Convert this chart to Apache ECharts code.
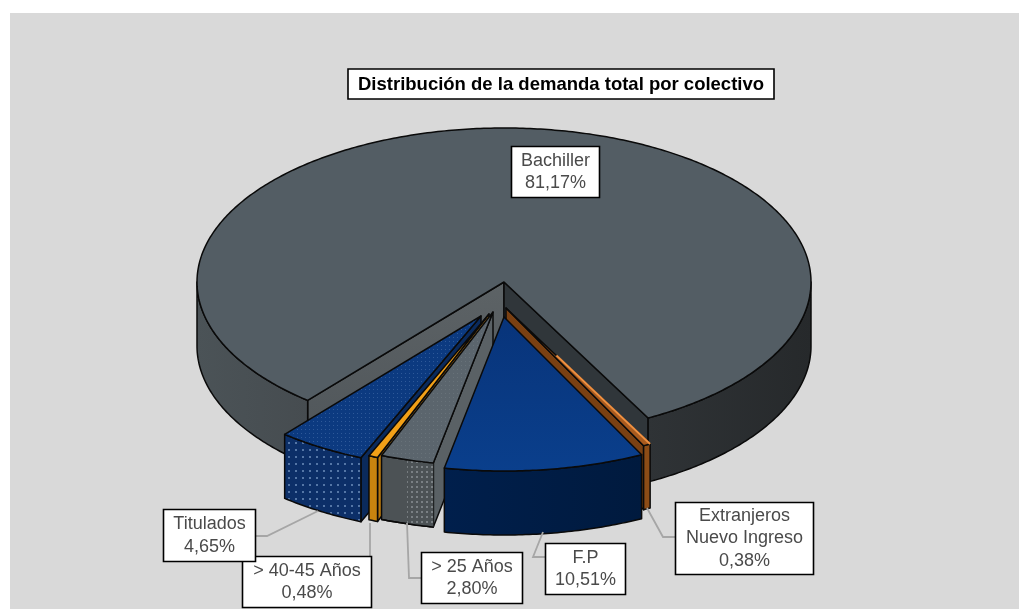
<!DOCTYPE html>
<html>
<head>
<meta charset="utf-8">
<style>html,body{margin:0;padding:0;background:#fff}#chart{width:1019px;height:609px}</style>
<script src="https://cdn.jsdelivr.net/npm/echarts@6/dist/echarts.min.js"></script>
</head>
<body>
<div id="chart"></div>
<script>
// ---- data ----
const titleText = 'Distribución de la demanda total por colectivo';
const categories = ['Extranjeros\nNuevo Ingreso', 'F.P', '> 25 Años', '> 40-45 Años', 'Titulados', 'Bachiller'];
const shares = [0.38, 10.51, 2.80, 0.48, 4.65, 81.17];
const shareLabels = ['0,38%', '10,51%', '2,80%', '0,48%', '4,65%', '81,17%'];

// ---- pie geometry ----
const startAngle = 152;            // degrees clockwise from 12 o'clock
const cx = 504, cy = 282, rx = 307, ry = 154, depth = 64;
const explode = [[2, 26], [0, 35], [-11, 30], [-15, 32], [-23, 34], [0, 0]];
const drawOrder = [5, 4, 3, 2, 0, 1];

function dots(bg, dot, step, size, alpha) {
  const c = document.createElement('canvas');
  c.width = c.height = step;
  const g = c.getContext('2d');
  g.fillStyle = bg; g.fillRect(0, 0, step, step);
  g.globalAlpha = alpha; g.fillStyle = dot;
  g.fillRect(1, 1, size, size);
  return { image: c, repeat: 'repeat' };
}
const hgrad = (a, b) => ({ type: 'linear', x: 0, y: 0, x2: 1, y2: 0, colorStops: [{ offset: 0, color: a }, { offset: 1, color: b }] });
const vgrad = (a, b) => ({ type: 'linear', x: 0, y: 0, x2: 0, y2: 1, colorStops: [{ offset: 0, color: a }, { offset: 1, color: b }] });

const looks = [
  { top: '#a85a1e', rim: '#8c4c16', cut: '#7a4012', glow: '#f09040' },
  { top: vgrad('#08347a', '#0a3f8c'), rim: hgrad('#001f4c', '#001a3e'), cut: '#00204e' },
  { top: dots('#5b656d', '#7d868d', 4, 1, 0.4), rim: '#4c5255', cut: '#5a6165', rimDots: dots('#4c5255', '#9aa0a4', 5, 2, 0.6) },
  { top: '#f2a017', rim: '#c8840f', cut: '#b9780d' },
  { top: dots('#0c3a80', '#6f95c8', 4, 1, 0.35), rim: dots('#0c2f68', '#8fb0d8', 7, 2, 0.55), cut: '#0a2a5c' },
  { top: '#535d64', rimL: hgrad('#4b5357', '#464c50'), rimR: hgrad('#2f3336', '#26292b'), cutA: vgrad('#5d6366', '#4e5458'), cutB: '#30363a', cut: '#555' }
];

// ---- cumulative angles ----
const total = shares.reduce((s, v) => s + v, 0);
const spans = [];
shares.reduce((acc, v, i) => { const a = acc + v / total * 360; spans[i] = [acc, a]; return a; }, startAngle);

function renderWedge(params, api) {
  const i = api.value(0);
  const [a, b] = spans[i];
  const [dx, dy] = explode[i];
  const L = looks[i];
  const rad = d => d * Math.PI / 180;
  const p = (t, h) => [cx + dx + rx * Math.sin(rad(t)), cy + dy - ry * Math.cos(rad(t)) + (h || 0)];
  const apex = h => [cx + dx, cy + dy + (h || 0)];
  const arc = (s, e, h) => {
    const out = [], n = Math.max(2, Math.ceil(Math.abs(e - s) * 1.5));
    for (let k = 0; k <= n; k++) out.push(p(s + (e - s) * k / n, h));
    return out;
  };
  const line = { stroke: '#0a0a0a', lineWidth: 1.5, lineJoin: 'round' };
  const poly = (points, fill) => ({ type: 'polygon', shape: { points }, style: Object.assign({ fill }, line) });
  const kids = [];
  // cut faces
  if (-Math.sin(rad(a)) > 0) kids.push(poly([apex(), p(a), p(a, depth), apex(depth)], L.cutA || L.cut));
  if (Math.sin(rad(b)) > 0) kids.push(poly([apex(), p(b), p(b, depth), apex(depth)], L.cutB || L.cut));
  // front rim: the arcs that face the viewer
  [[90, 270], [450, 630]].forEach(([lo, hi]) => {
    const s = Math.max(a, lo), e = Math.min(b, hi);
    if (e <= s) return;
    const fill = L.rim || (lo === 90 ? L.rimL : L.rimR);
    kids.push(poly(arc(s, e).concat(arc(e, s, depth)), fill));
    if (L.rimDots) {
      const n = s + (e - s) * 0.5;
      kids.push({ type: 'polygon', shape: { points: arc(s, n).concat(arc(n, s, depth)) }, style: { fill: L.rimDots } });
      kids.push({ type: 'polyline', shape: { points: arc(s, e, depth) }, style: { fill: 'none', stroke: '#0a0a0a', lineWidth: 1.5 } });
    }
  });
  // top face
  kids.push(poly([apex()].concat(arc(a, b)), L.top));
  if (L.glow) {
    const t0 = apex(), t1 = p(a);
    kids.push({ type: 'line', shape: { x1: t0[0] + (t1[0] - t0[0]) * 0.35, y1: t0[1] + (t1[1] - t0[1]) * 0.35, x2: t1[0], y2: t1[1] }, style: { stroke: L.glow, lineWidth: 2 } });
  }
  return { type: 'group', children: kids };
}

// ---- label boxes ----
const boxes = [
  { i: 3, x: 242, y: 556, w: 129, h: 51, path: [[370, 556], [370, 523]] },
  { i: 4, x: 163, y: 509, w: 92, h: 52, path: [[255, 536], [267, 536], [318, 511]] },
  { i: 2, x: 421, y: 552, w: 101, h: 51, path: [[421, 578], [409, 578], [407, 523]] },
  { i: 1, x: 545, y: 543, w: 80, h: 51, path: [[545, 557], [533, 557], [543, 532]] },
  { i: 0, x: 675, y: 502, w: 138, h: 72, path: [[675, 537], [663, 537], [647, 508]] },
  { i: 5, x: 511, y: 146, w: 88, h: 51, path: [] }
];
function renderBox(params, api) {
  const B = boxes[api.value(0)];
  const kids = [];
  if (B.path.length) kids.push({ type: 'polyline', shape: { points: B.path }, style: { fill: 'none', stroke: '#a6a6a6', lineWidth: 1.8 } });
  kids.push({ type: 'rect', shape: { x: B.x + 0.5, y: B.y + 0.5, width: B.w, height: B.h }, style: { fill: '#fff', stroke: '#000', lineWidth: 1.6 } });
  kids.push({
    type: 'text',
    style: {
      x: B.x + B.w / 2 + 0.5, y: B.y + B.h / 2 + 0.5,
      text: categories[B.i] + '\n' + shareLabels[B.i],
      fill: '#4a4a4a', font: '18px "Liberation Sans", Arial, sans-serif',
      lineHeight: 22.5, align: 'center', verticalAlign: 'middle'
    }
  });
  return { type: 'group', children: kids };
}

const chart = echarts.init(document.getElementById('chart'), null, { renderer: 'canvas' });
chart.setOption({
  animation: false,
  backgroundColor: '#ffffff',
  graphic: [{ type: 'rect', z: -10, silent: true, shape: { x: 10, y: 13, width: 1009, height: 596 }, style: { fill: '#d9d9d9' } }],
  title: {
    text: titleText, left: 348, top: 69, z: 20,
    backgroundColor: '#fff', borderColor: '#000', borderWidth: 1.6,
    padding: [6, 10, 5, 10],
    textStyle: { fontFamily: '"Liberation Sans", Arial, sans-serif', fontSize: 18.5, fontWeight: 'bold', color: '#000' }
  },
  tooltip: { show: false },
  series: [
    { type: 'custom', coordinateSystem: 'none', silent: true, z: 2, renderItem: renderWedge, data: drawOrder.map(i => [i, shares[i]]) },
    { type: 'custom', coordinateSystem: 'none', silent: true, z: 3, renderItem: renderBox, data: boxes.map((b, k) => [k]) }
  ]
});
</script>
</body>
</html>
